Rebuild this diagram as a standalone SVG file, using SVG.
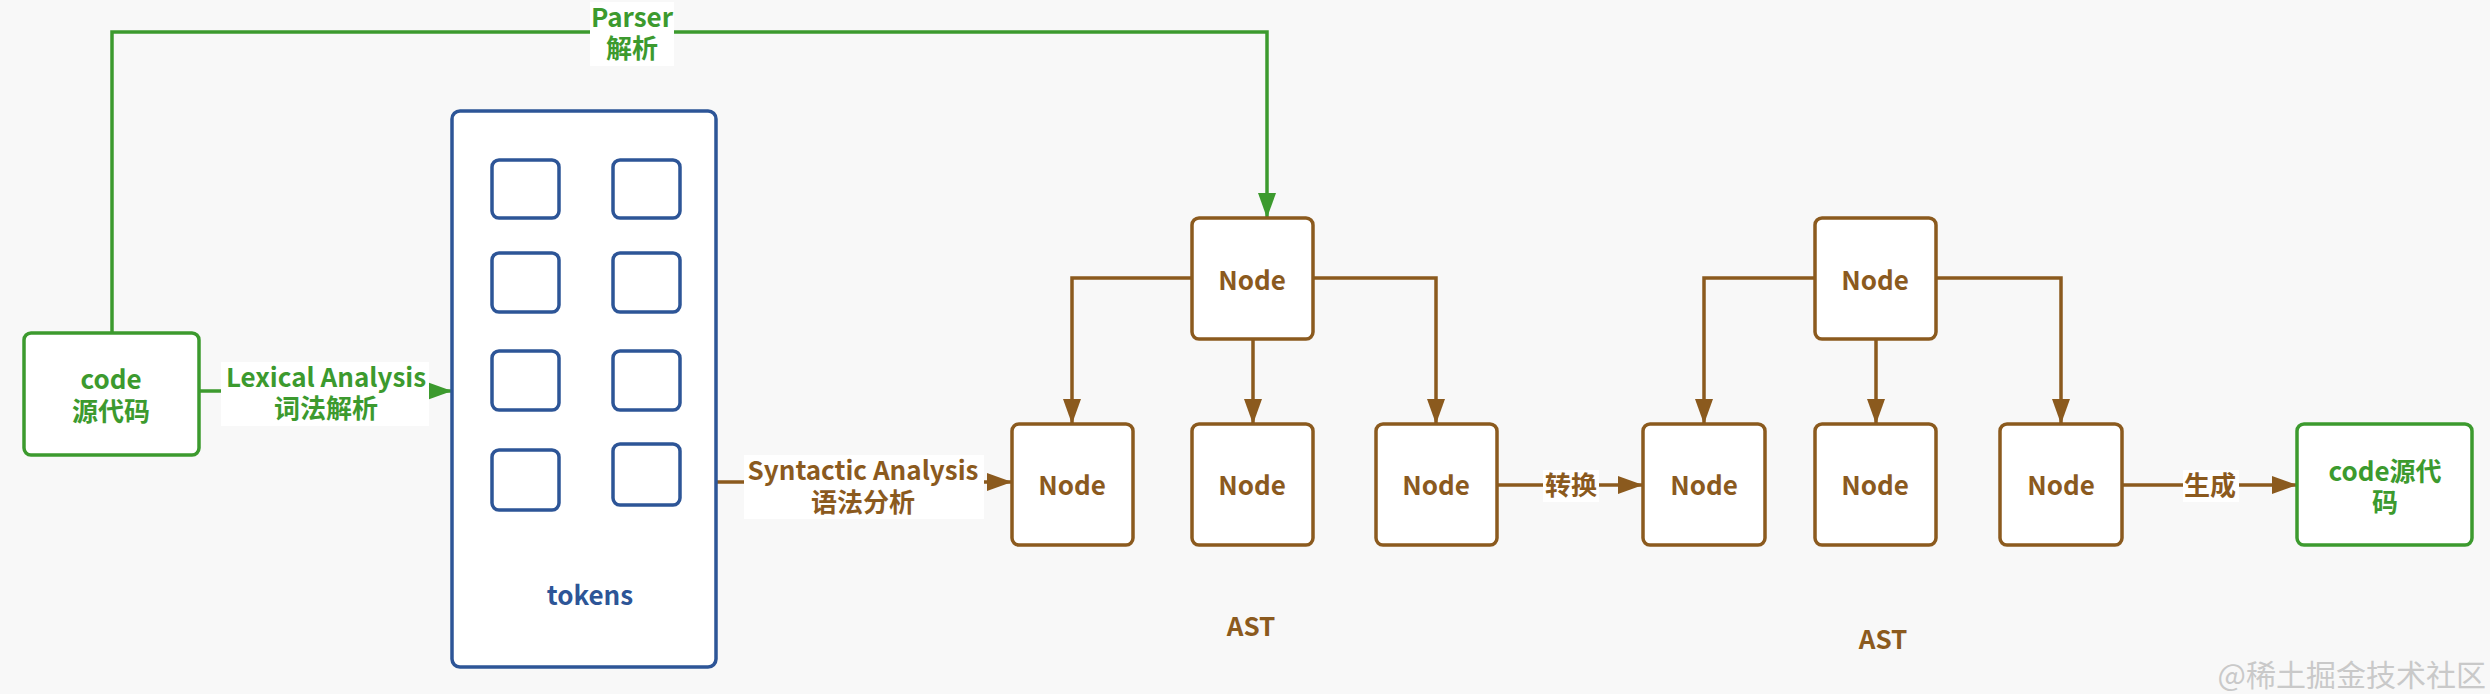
<svg xmlns="http://www.w3.org/2000/svg" width="2490" height="694" viewBox="0 0 2490 694">
<defs>
<style>
.bg{fill:#f8f8f8}
.t{font-family:"Noto Sans CJK SC","Noto Sans",sans-serif;font-weight:bold;font-size:26px;text-anchor:middle}
.g{fill:#3c9a2e}
.b{fill:#8b5a1e}
.u{fill:#2d5597}
.gbox{fill:#ffffff;stroke:#3c9a2e;stroke-width:3.5}
.bbox{fill:#ffffff;stroke:#8b5a1e;stroke-width:3.5}
.ubox{fill:#ffffff;stroke:#2d5597;stroke-width:3.5}
.tok{fill:none;stroke:#2d5597;stroke-width:3.5}
.gl{fill:none;stroke:#3c9a2e;stroke-width:3.5}
.bl{fill:none;stroke:#8b5a1e;stroke-width:3.5}
.lbg{fill:#ffffff}
.wm{font-family:"Noto Sans CJK SC",sans-serif;font-size:30px;fill:#c9c9c9;text-anchor:end}
</style>
<marker id="ag" markerUnits="userSpaceOnUse" markerWidth="26" markerHeight="20" refX="25" refY="9" orient="auto"><path d="M0,0 L25,9 L0,18 z" fill="#3c9a2e"/></marker>
<marker id="ab" markerUnits="userSpaceOnUse" markerWidth="26" markerHeight="20" refX="25" refY="9" orient="auto"><path d="M0,0 L25,9 L0,18 z" fill="#8b5a1e"/></marker>
</defs>
<rect class="bg" x="0" y="0" width="2490" height="694"/>

<g id="connectors">
<path class="gl" d="M112,333 V32 H1267 V218" marker-end="url(#ag)"/>
<path class="gl" d="M199,391 H452" marker-end="url(#ag)"/>
<path class="bl" d="M716,482 H1012" marker-end="url(#ab)"/>
<path class="bl" d="M1192,278 H1072 V424" marker-end="url(#ab)"/>
<path class="bl" d="M1253,339 V424" marker-end="url(#ab)"/>
<path class="bl" d="M1313,278 H1436 V424" marker-end="url(#ab)"/>
<path class="bl" d="M1497,485 H1643" marker-end="url(#ab)"/>
<path class="bl" d="M1815,278 H1704 V424" marker-end="url(#ab)"/>
<path class="bl" d="M1876,339 V424" marker-end="url(#ab)"/>
<path class="bl" d="M1936,278 H2061 V424" marker-end="url(#ab)"/>
<path class="bl" d="M2122,485 H2297" marker-end="url(#ab)"/>
<g id="label-parser"><rect class="lbg" x="590" y="2" width="84" height="64"/><text class="t g" x="632" y="27">Parser<tspan x="632" dy="31">解析</tspan></text></g>
<g id="label-lexical"><rect class="lbg" x="221" y="362" width="208" height="64"/><text class="t g" x="326" y="387">Lexical Analysis<tspan x="326" dy="31">词法解析</tspan></text></g>
<g id="label-syntactic"><rect class="lbg" x="744" y="455" width="240" height="64"/><text class="t b" x="863" y="480">Syntactic Analysis<tspan x="863" dy="32">语法分析</tspan></text></g>
<g id="label-transform"><rect class="lbg" x="1543" y="470" width="56" height="32"/><text class="t b" x="1571" y="495">转换</text></g>
<g id="label-generate"><rect class="lbg" x="2183" y="470" width="56" height="32"/><text class="t b" x="2210" y="495">生成</text></g>
</g>

<g id="code-src"><rect class="gbox" x="24" y="333" width="175" height="122" rx="7"/><text class="t g" x="111" y="389">code<tspan x="111" dy="32">源代码</tspan></text></g>

<g id="tokens">
<rect class="ubox" x="452" y="111" width="264" height="556" rx="8"/>
<rect class="tok" x="492" y="160" width="67" height="58" rx="7"/>
<rect class="tok" x="613" y="160" width="67" height="58" rx="7"/>
<rect class="tok" x="492" y="253" width="67" height="59" rx="7"/>
<rect class="tok" x="613" y="253" width="67" height="59" rx="7"/>
<rect class="tok" x="492" y="351" width="67" height="59" rx="7"/>
<rect class="tok" x="613" y="351" width="67" height="59" rx="7"/>
<rect class="tok" x="492" y="450" width="67" height="60" rx="7"/>
<rect class="tok" x="613" y="444" width="67" height="61" rx="7"/>
<text class="t u" x="590" y="605">tokens</text>
</g>

<g id="ast1-root"><rect class="bbox" x="1192" y="218" width="121" height="121" rx="7"/><text class="t b" x="1252" y="290">Node</text></g>
<g id="ast1-n1"><rect class="bbox" x="1012" y="424" width="121" height="121" rx="7"/><text class="t b" x="1072" y="495">Node</text></g>
<g id="ast1-n2"><rect class="bbox" x="1192" y="424" width="121" height="121" rx="7"/><text class="t b" x="1252" y="495">Node</text></g>
<g id="ast1-n3"><rect class="bbox" x="1376" y="424" width="121" height="121" rx="7"/><text class="t b" x="1436" y="495">Node</text></g>
<g id="ast1-label"><text class="t b" x="1251" y="636">AST</text></g>

<g id="ast2-root"><rect class="bbox" x="1815" y="218" width="121" height="121" rx="7"/><text class="t b" x="1875" y="290">Node</text></g>
<g id="ast2-n1"><rect class="bbox" x="1643" y="424" width="122" height="121" rx="7"/><text class="t b" x="1704" y="495">Node</text></g>
<g id="ast2-n2"><rect class="bbox" x="1815" y="424" width="121" height="121" rx="7"/><text class="t b" x="1875" y="495">Node</text></g>
<g id="ast2-n3"><rect class="bbox" x="2000" y="424" width="122" height="121" rx="7"/><text class="t b" x="2061" y="495">Node</text></g>
<g id="ast2-label"><text class="t b" x="1883" y="649">AST</text></g>

<g id="code-out"><rect class="gbox" x="2297" y="424" width="175" height="121" rx="7"/><text class="t g" x="2385" y="481">code源代<tspan x="2385" dy="31">码</tspan></text></g>

<text class="wm" x="2486" y="686">@稀土掘金技术社区</text>
</svg>
